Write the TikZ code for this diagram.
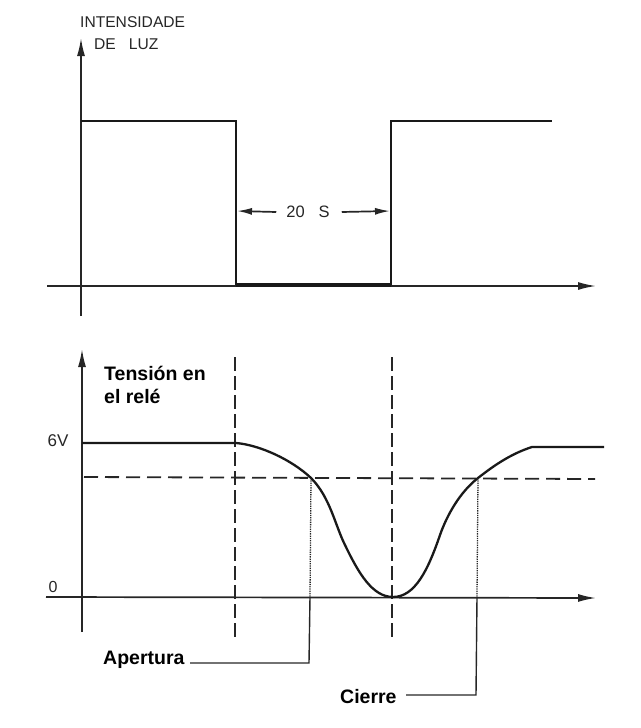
\documentclass[tikz,border=0pt]{standalone}
\usepackage{fontspec}
\setmainfont{Liberation Sans}
\usetikzlibrary{positioning, calc, arrows.meta}

\begin{document}
\begin{tikzpicture}[x=1pt, y=-1pt, >={Latex[length=18pt, width=8pt]}]
        % Define styles
        \tikzstyle{axis} = [draw=black!85, line width=1.7pt]
        \tikzstyle{signal} = [draw=black!90, line width=2.3pt]
        \tikzstyle{guide} = [draw=black!85, line width=2.3pt, dash pattern=on 14pt off 5pt]
        \tikzstyle{level} = [draw=black!85, line width=1.8pt, dash pattern=on 14pt off 7pt]
        \tikzstyle{drop} = [draw=black!85, line width=1.3pt, densely dotted]
        \tikzstyle{leader} = [draw=black!85, line width=1.4pt]
        \tikzstyle{scanned} = [inner sep=0pt, text=black!85, font=\fontsize{15.6}{18}\selectfont]
        \tikzstyle{caption} = [inner sep=0pt, anchor=west, align=left, font=\fontsize{19.5}{23}\selectfont\bfseries]

        \useasboundingbox (0,0) rectangle (640,728);

        % Place labels
        \node [scanned, anchor=west] (light_title) at (80,22) {INTENSIDADE};
        \node [scanned, anchor=west] (light_title_b) at (94,44) {DE\ \ \ LUZ};
        \node [scanned, font=\fontsize{16.5}{18}\selectfont] (period) at (308,212) {20\ \ \ S};
        \node [scanned, font=\fontsize{17}{19}\selectfont] (six_volt) at (58,441) {6V};
        \node [scanned, font=\fontsize{16}{18}\selectfont] (zero_volt) at (53,587) {0};
        \node [caption] (relay_title) at (104,385) {Tensión en\\el relé};
        \node [caption] (opening) at (103,660) {Apertura};
        \node [caption] (closing) at (340,697) {Cierre};

        % Place points of the pulse
        \coordinate (light_bottom) at (81,316);
        \coordinate (light_top) at (81,38);
        \coordinate (light_left) at (47,286);
        \coordinate (light_right) at (596,286);
        \coordinate (pulse_a) at (81,121);
        \coordinate (pulse_b) at (236,121);
        \coordinate (pulse_c) at (236,285);
        \coordinate (pulse_d) at (391,285);
        \coordinate (pulse_e) at (391,121);
        \coordinate (pulse_f) at (552,121);
        \coordinate (period_a) at (237,211);
        \coordinate (period_b) at (390,211);

        % Place points of the voltage
        \coordinate (volt_bottom) at (82,632);
        \coordinate (volt_top) at (82,349);
        \coordinate (volt_left) at (46,597);
        \coordinate (volt_right) at (596,598);
        \coordinate (level_a) at (84,477);
        \coordinate (level_b) at (595,479);
        \coordinate (guide_a) at (235,357);
        \coordinate (guide_b) at (235,638);
        \coordinate (guide_c) at (392,357);
        \coordinate (guide_d) at (392,638);
        \coordinate (open_cross) at (311,478);
        \coordinate (open_axis) at (310,597);
        \coordinate (open_corner) at (309,663);
        \coordinate (open_end) at (190,663);
        \coordinate (close_cross) at (478,478);
        \coordinate (close_axis) at (477,597);
        \coordinate (close_corner) at (476,695);
        \coordinate (close_end) at (406,695);

        % Draw the pulse
        \draw [axis, ->] (light_bottom) -- (light_top);
        \draw [axis, ->] (light_left) -- (light_right);
        \draw [signal] (pulse_a) -- (pulse_b) -- (pulse_c);
        \draw [signal] (pulse_d) -- (pulse_e) -- (pulse_f);
        \draw [draw=black!90, line width=3.5pt] (pulse_c) -- (pulse_d);
        \draw [axis, -{Latex[length=15pt, width=7pt]}] (period.west) ++(-10,0) -- (period_a);
        \draw [axis, -{Latex[length=15pt, width=7pt]}] (period.east) ++(12,0) -- (period_b);

        % Draw the voltage
        \draw [axis, ->] (volt_bottom) -- (volt_top);
        \draw [axis, ->] (volt_left) -- (volt_right);
        \draw [level] (level_a) -- (level_b);
        \draw [guide] (guide_a) -- (guide_b);
        \draw [guide] (guide_c) -- (guide_d);
        \draw [signal] (82,443) -- (236,443)
            .. controls (260,445) and (292,460) .. (open_cross)
            .. controls (330,497) and (335,525) .. (345,545)
            .. controls (358,572) and (372,597) .. (393,597)
            .. controls (415,597) and (428,570) .. (440,535)
            .. controls (447,515) and (460,492) .. (close_cross)
            .. controls (492,467) and (510,454) .. (532,447)
            -- (604,447);

        % Draw the leaders
        \draw [drop] (open_cross) -- (open_axis);
        \draw [drop] (close_cross) -- (close_axis);
        \draw [leader] (open_axis) -- (open_corner) -- (open_end);
        \draw [leader] (close_axis) -- (close_corner) -- (close_end);
    \end{tikzpicture}
\end{document}
